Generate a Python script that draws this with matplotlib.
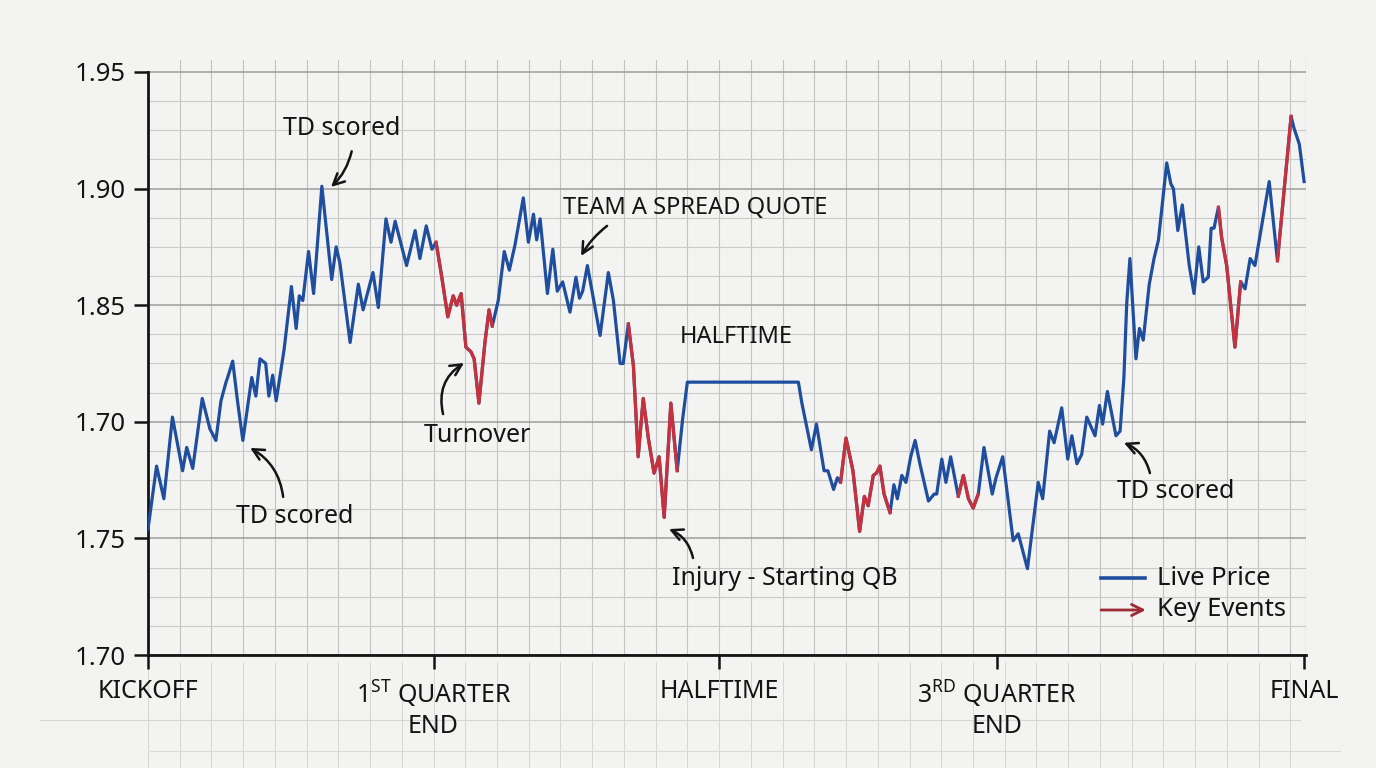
import matplotlib
matplotlib.use("Agg")
import matplotlib.pyplot as plt
from matplotlib.patches import FancyArrowPatch
import numpy as np

BG = "#f3f3f1"; BLUE = "#1f4e9e"; RED = "#c8303c"; DARKRED = "#9e2a36"; INK = "#141414"
plt.rcParams['font.family'] = ['Noto Sans', 'DejaVu Sans']
plt.rcParams['mathtext.fontset'] = 'custom'
plt.rcParams['mathtext.rm'] = 'Noto Sans'

# ---- data (game timeline in grid units, quote price) ----
t = [0.00, 0.27, 0.50, 0.77, 1.09, 1.22, 1.41, 1.71, 1.95, 2.14,
     2.30, 2.46, 2.51, 2.67, 2.82, 2.99, 3.27, 3.40, 3.53, 3.71,
     3.81, 3.93, 4.04, 4.29, 4.52, 4.67, 4.77, 4.88, 5.06, 5.22,
     5.48, 5.79, 5.93, 6.05, 6.37, 6.63, 6.78, 7.09, 7.26, 7.50,
     7.66, 7.79, 8.15, 8.42, 8.57, 8.77, 8.95, 9.08, 9.26, 9.45,
     9.62, 9.73, 9.87, 10.02, 10.18, 10.28, 10.43, 10.62, 10.75, 10.85,
     11.04, 11.23, 11.39, 11.57, 11.83, 11.99, 12.15, 12.25, 12.36, 12.59,
     12.76, 12.90, 13.07, 13.30, 13.49, 13.60, 13.70, 13.85, 14.25, 14.51,
     14.67, 14.88, 14.98, 15.14, 15.30, 15.45, 15.61, 15.77, 15.95, 16.11,
     16.27, 16.48, 16.68, 16.85, 17.00, 20.50, 20.61, 20.91, 21.07, 21.31,
     21.43, 21.61, 21.73, 21.83, 22.00, 22.22, 22.43, 22.58, 22.70, 22.86,
     22.96, 23.07, 23.20, 23.39, 23.51, 23.62, 23.76, 23.89, 24.04, 24.18,
     24.33, 24.60, 24.78, 24.86, 25.02, 25.15, 25.30, 25.54, 25.70, 25.86,
     26.01, 26.17, 26.35, 26.61, 26.73, 26.94, 27.27, 27.43, 27.72, 28.06,
     28.20, 28.42, 28.56, 28.80, 28.99, 29.12, 29.28, 29.43, 29.59, 29.85,
     29.99, 30.09, 30.24, 30.51, 30.64, 30.76, 30.85, 30.95, 31.14, 31.25,
     31.37, 31.56, 31.71, 31.85, 32.11, 32.24, 32.32, 32.46, 32.60, 32.82,
     32.97, 33.12, 33.26, 33.42, 33.51, 33.60, 33.74, 33.84, 34.00, 34.26,
     34.44, 34.58, 34.74, 34.89, 35.34, 35.60, 36.03, 36.12, 36.29, 36.44]
price = [1.754, 1.781, 1.767, 1.802, 1.779, 1.789, 1.780, 1.810, 1.797, 1.792,
         1.809, 1.817, 1.819, 1.826, 1.809, 1.792, 1.819, 1.811, 1.827, 1.825,
         1.811, 1.820, 1.809, 1.831, 1.858, 1.840, 1.854, 1.852, 1.873, 1.855,
         1.901, 1.861, 1.875, 1.868, 1.834, 1.859, 1.848, 1.864, 1.849, 1.887,
         1.877, 1.886, 1.867, 1.882, 1.870, 1.884, 1.874, 1.877, 1.862, 1.845,
         1.854, 1.850, 1.855, 1.832, 1.830, 1.827, 1.808, 1.834, 1.848, 1.841,
         1.852, 1.873, 1.865, 1.876, 1.896, 1.877, 1.889, 1.878, 1.887, 1.855,
         1.874, 1.856, 1.860, 1.847, 1.862, 1.853, 1.856, 1.867, 1.837, 1.864,
         1.852, 1.825, 1.825, 1.842, 1.824, 1.785, 1.810, 1.793, 1.778, 1.785,
         1.759, 1.808, 1.779, 1.801, 1.817, 1.817, 1.808, 1.788, 1.799, 1.779,
         1.779, 1.771, 1.776, 1.774, 1.793, 1.779, 1.753, 1.768, 1.764, 1.777,
         1.778, 1.781, 1.769, 1.761, 1.773, 1.767, 1.777, 1.774, 1.785, 1.792,
         1.782, 1.766, 1.769, 1.769, 1.784, 1.774, 1.785, 1.768, 1.777, 1.767,
         1.763, 1.769, 1.789, 1.769, 1.776, 1.785, 1.749, 1.752, 1.737, 1.774,
         1.767, 1.796, 1.791, 1.806, 1.784, 1.794, 1.782, 1.786, 1.802, 1.794,
         1.807, 1.799, 1.813, 1.794, 1.796, 1.819, 1.851, 1.870, 1.827, 1.840,
         1.835, 1.859, 1.870, 1.878, 1.911, 1.902, 1.900, 1.882, 1.893, 1.867,
         1.855, 1.875, 1.860, 1.862, 1.883, 1.883, 1.892, 1.879, 1.867, 1.832,
         1.860, 1.857, 1.870, 1.867, 1.903, 1.869, 1.931, 1.926, 1.919, 1.903]
event_windows = [(9.08, 10.85), (15.14, 16.68), (21.83, 23.39), (25.54, 26.17), (33.74, 34.44), (35.60, 36.03)]

xtick_pos = [0, 9, 18, 26.75, 36.45]
xtick_labels = ["KICKOFF", "1$^{\\rm ST}$ QUARTER\nEND", "HALFTIME", "3$^{\\rm RD}$ QUARTER\nEND", "FINAL"]
ytick_pos = [1.70, 1.75, 1.80, 1.85, 1.90, 1.95]
ytick_labels = ["1.70", "1.75", "1.70", "1.85", "1.90", "1.95"]

t = np.array(t); price = np.array(price)

fig = plt.figure(figsize=(13.76, 7.68), dpi=100, facecolor=BG)

# paper grid under the chart
bg = fig.add_axes([0, 0, 1, 1], zorder=-1); bg.set_xlim(0, 1376); bg.set_ylim(768, 0); bg.axis("off")
for k in range(37):
    bg.plot([148 + k * 31.73] * 2, [662, 768], color="#d6d6d4", lw=0.7)
bg.plot([40, 1300], [720, 720], color="#d6d6d4", lw=0.8)
bg.plot([150, 1340], [751, 751], color="#d9d9d7", lw=0.8)

ax = fig.add_axes([148 / 1376, 113 / 768, 1158 / 1376, 594.7 / 768])
ax.set_facecolor("none")
ax.set_xlim(0, 36.5); ax.set_ylim(1.70, 1.955)

# grid
for x in range(1, 37):
    ax.axvline(x, color="#c2c2c0", lw=0.8, zorder=0)
ax.axvline(36.5, color="#b8b8b6", lw=0.9, zorder=0)
for y in np.arange(1.70, 1.9551, 0.0125):
    major = abs((y - 1.70) / 0.05 - round((y - 1.70) / 0.05)) < 1e-6
    ax.axhline(y, color="#9d9d9b" if major else "#cacac8", lw=1.1 if major else 0.8, zorder=0)

# price line + key event overlays
ax.plot(t, price, color=BLUE, lw=2.3, solid_joinstyle="round", zorder=3)
for a, b in event_windows:
    m = (t >= a - 1e-6) & (t <= b + 1e-6)
    ax.plot(t[m], price[m], color=RED, lw=2.3, solid_joinstyle="round", zorder=4)

# axes styling
for s in ["top", "right"]:
    ax.spines[s].set_visible(False)
ax.spines["left"].set_bounds(1.70, 1.95)
ax.spines["left"].set_linewidth(2.0); ax.spines["bottom"].set_linewidth(2.0)
ax.spines["left"].set_color(INK); ax.spines["bottom"].set_color(INK)
ax.set_xticks(xtick_pos); ax.set_xticklabels(xtick_labels, fontsize=18)
ax.set_yticks(ytick_pos); ax.set_yticklabels(ytick_labels, fontsize=18.5)
ax.tick_params(axis="both", direction="out", length=10, width=1.8, colors=INK, pad=7)
ax.tick_params(axis="y", pad=6)

# annotations
def note(txt, tx, ty, tail, head, rad, fs=18):
    ax.text(tx, ty, txt, ha="center", va="center", fontsize=fs, color=INK, zorder=5)
    if tail is not None:
        ax.add_patch(FancyArrowPatch(tail, head, arrowstyle="->", mutation_scale=20, lw=1.8,
                                     shrinkA=0, shrinkB=0, color=INK,
                                     connectionstyle=f"arc3,rad={rad}", zorder=5))

note("TD scored", 6.11, 1.9256, (6.42, 1.9160), (5.77, 1.9007), -0.15)
note("TD scored", 4.63, 1.7596, (4.26, 1.7678), (3.22, 1.7888), 0.25)
note("Turnover", 10.37, 1.7943, (9.30, 1.8033), (9.96, 1.8252), -0.35)
note("TEAM A SPREAD QUOTE", 17.24, 1.8917, (14.47, 1.8840), (13.65, 1.8711), 0.1, fs=17)
note("HALFTIME", 18.53, 1.8364, None, None, 0, fs=17)
note("Injury - Starting QB", 20.08, 1.7326, (17.18, 1.7416), (16.42, 1.7540), 0.25)
note("TD scored", 32.40, 1.7703, (31.58, 1.7780), (30.76, 1.7910), 0.25)

# legend
ax.plot([30.04, 31.43], [1.7330, 1.7330], color=BLUE, lw=2.6, zorder=5)
ax.text(31.80, 1.7330, "Live Price", va="center", fontsize=18.5, color=INK, zorder=5)
ax.add_patch(FancyArrowPatch((30.04, 1.7193), (31.45, 1.7193), arrowstyle="->", mutation_scale=20,
                             lw=2.0, shrinkA=0, shrinkB=0, color=DARKRED, zorder=5))
ax.text(31.80, 1.7193, "Key Events", va="center", fontsize=18.5, color=INK, zorder=5)

plt.savefig("out.png", dpi=100, facecolor=BG)
